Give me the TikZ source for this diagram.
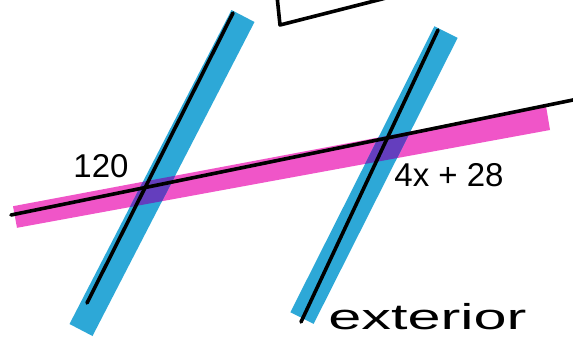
\documentclass[tikz,border=0pt]{standalone}
\usepackage{fontspec}
\setmainfont{Liberation Sans}
\definecolor{mblue}{RGB}{45,168,215}
\definecolor{mpink}{RGB}{240,85,200}
\definecolor{mpurple}{RGB}{100,62,190}
\tikzset{
  ink/.style={line width=3.6pt, line cap=round, black},
  lbl/.style={font=\fontsize{33}{34}\selectfont, inner sep=0pt},
}
\begin{document}
\begin{tikzpicture}[x=1pt,y=-1pt]
\useasboundingbox (0,0) rectangle (573,338);
\clip (0,0) rectangle (573,338);
\fill[white] (0,0) rectangle (573,338);
% highlighter strips
\fill[mpink] (13,206.2) -- (546,106) -- (550,130) -- (17,227.8) -- cycle;
\fill[mblue] (231.5,10) -- (254.5,22) -- (92.5,336) -- (69.5,324) -- cycle;
\fill[mblue] (434.4,26.2) -- (457.6,37.9) -- (313.6,323.9) -- (290.4,312.2) -- cycle;
\begin{scope}
\clip (231.5,10) -- (254.5,22) -- (92.5,336) -- (69.5,324) -- cycle;
\fill[mpurple] (13,206.2) -- (546,106) -- (550,130) -- (17,227.8) -- cycle;
\end{scope}
\begin{scope}
\clip (434.4,26.2) -- (457.6,37.9) -- (313.6,323.9) -- (290.4,312.2) -- cycle;
\fill[mpurple] (13,206.2) -- (546,106) -- (550,130) -- (17,227.8) -- cycle;
\end{scope}
% black lines
\coordinate (l1a) at (233,13);
\coordinate (l1b) at (87,303);
\coordinate (l2a) at (438,30);
\coordinate (l2b) at (301,322);
\coordinate (ta) at (11,215);
\coordinate (tb) at (590,96.5);
\draw[ink] (l1a) -- (l1b);
\draw[ink] (l2a) -- (l2b);
\draw[ink] (ta) -- (tb);
% box fragment at top
\coordinate (b1) at (277,-4);
\coordinate (b2) at (280,25);
\coordinate (b3) at (386,-2);
\draw[ink, line join=round] (b1) -- (b2) -- (b3);
% labels
\node[lbl] (a120) at (101,166) {120};
\node[lbl] (a4x) at (449,175) {4x + 28};
% handwriting at the bottom
\node[font=\fontsize{36}{36}\selectfont, anchor=base west, inner sep=0pt, xscale=1.65] (ext) at (328,329) {exterior};
\end{tikzpicture}
\end{document}
